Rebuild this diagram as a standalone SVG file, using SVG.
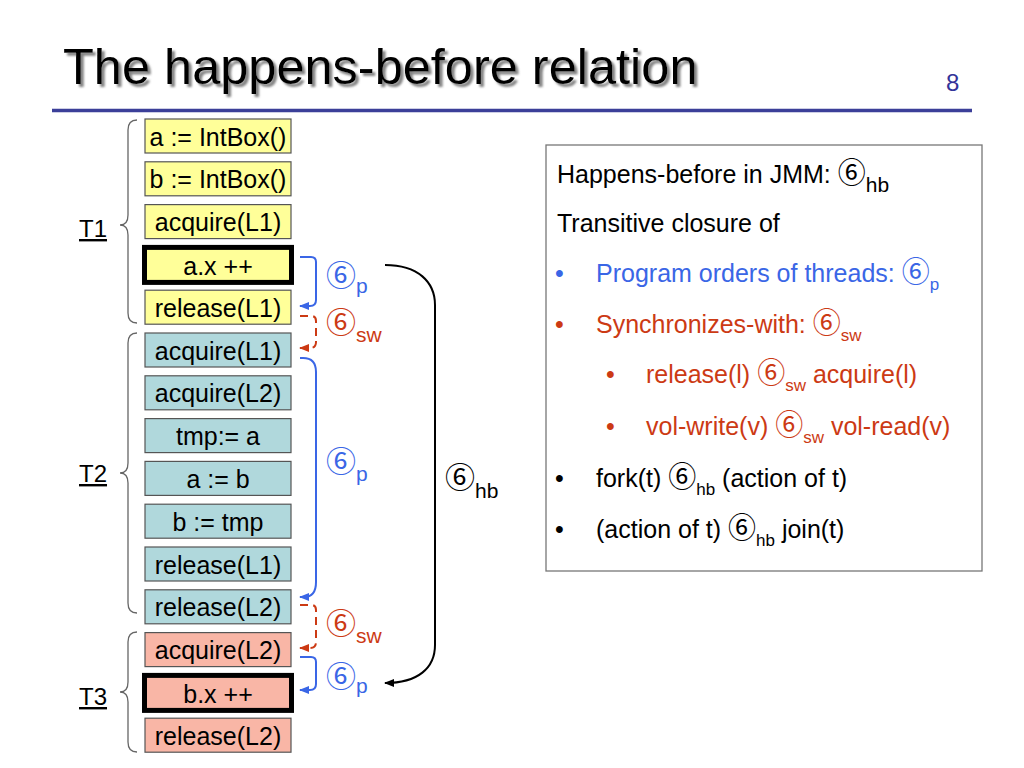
<svg xmlns="http://www.w3.org/2000/svg" width="1024" height="768" viewBox="0 0 1024 768">
<style>
text{font-family:"Liberation Sans",Arial,"Noto Sans CJK JP",sans-serif;}
.c{font-family:"Noto Sans CJK JP","Noto Sans CJK SC",sans-serif;}
.bx{stroke:#555;stroke-width:1.2;}
.thick{stroke:#000;stroke-width:5;}
.y{fill:#FFFF99;}
.t{fill:#B0D8DC;}
.s{fill:#F9B6A6;}
.bt{font-size:25px;fill:#000;text-anchor:middle;}
.brace{fill:none;stroke:#666;stroke-width:1.3;}
.lbl{font-size:24px;fill:#000;text-decoration:underline;}
.blue{fill:none;stroke:#3A66E6;stroke-width:2;}
.red{fill:none;stroke:#CC3A14;stroke-width:2;stroke-dasharray:8,5;}
.blk{fill:none;stroke:#000;stroke-width:2;}
.ct{font-size:30px;}
.cb{font-size:28px;}
</style>
<defs>
<marker id="ab" markerUnits="userSpaceOnUse" markerWidth="10" markerHeight="8" refX="9" refY="4" orient="auto"><path d="M0,0 L10,4 L0,8 z" fill="#3A66E6"/></marker>
<marker id="ar" markerUnits="userSpaceOnUse" markerWidth="10" markerHeight="8" refX="9" refY="4" orient="auto"><path d="M0,0 L10,4 L0,8 z" fill="#CC3A14"/></marker>
<marker id="ak" markerUnits="userSpaceOnUse" markerWidth="10" markerHeight="8" refX="9" refY="4" orient="auto"><path d="M0,0 L10,4 L0,8 z" fill="#000"/></marker>
<filter id="sh" x="-5%" y="-20%" width="110%" height="150%"><feDropShadow dx="3" dy="3" stdDeviation="1.3" flood-color="#777" flood-opacity="0.9"/></filter>
</defs>
<rect width="1024" height="768" fill="#fff"/>

<g id="title">
<text x="63" y="84" font-size="50.5" fill="#000" filter="url(#sh)">The happens-before relation</text>
<text x="946" y="91" font-size="24" fill="#333399">8</text>
<line x1="52" y1="110.5" x2="972" y2="110.5" stroke="#3B3F99" stroke-width="3.5"/>
</g>

<g id="T1">
<path class="brace" d="M137,120 Q128,120 128,130 V215 Q128,225 120,225 Q128,225 128,235 V313 Q128,323 137,323"/>
<text class="lbl" x="79" y="237">T1</text>
</g>
<g id="T2">
<path class="brace" d="M137,333 Q128,333 128,343 V463 Q128,473 120,473 Q128,473 128,483 V603 Q128,613 137,613"/>
<text class="lbl" x="79" y="482">T2</text>
</g>
<g id="T3">
<path class="brace" d="M137,632 Q128,632 128,642 V682 Q128,692 120,692 Q128,692 128,702 V742 Q128,752 137,752"/>
<text class="lbl" x="79" y="705">T3</text>
</g>

<g id="n0"><rect class="bx y" x="145" y="119" width="146" height="34"/><text class="bt" x="218" y="145.5">a := IntBox()</text></g>
<g id="n1"><rect class="bx y" x="145" y="161.8" width="146" height="34"/><text class="bt" x="218" y="188.3">b := IntBox()</text></g>
<g id="n2"><rect class="bx y" x="145" y="204.6" width="146" height="34"/><text class="bt" x="218" y="231.1">acquire(L1)</text></g>
<g id="n3"><rect class="thick y" x="144.5" y="247.4" width="147" height="35"/><text class="bt" x="218" y="274.5">a.x ++</text></g>
<g id="n4"><rect class="bx y" x="145" y="290.2" width="146" height="34"/><text class="bt" x="218" y="316.7">release(L1)</text></g>
<g id="n5"><rect class="bx t" x="145" y="333" width="146" height="34"/><text class="bt" x="218" y="359.5">acquire(L1)</text></g>
<g id="n6"><rect class="bx t" x="145" y="375.8" width="146" height="34"/><text class="bt" x="218" y="402.3">acquire(L2)</text></g>
<g id="n7"><rect class="bx t" x="145" y="418.6" width="146" height="34"/><text class="bt" x="218" y="445.1">tmp:= a</text></g>
<g id="n8"><rect class="bx t" x="145" y="461.4" width="146" height="34"/><text class="bt" x="218" y="487.9">a := b</text></g>
<g id="n9"><rect class="bx t" x="145" y="504.2" width="146" height="34"/><text class="bt" x="218" y="530.7">b := tmp</text></g>
<g id="n10"><rect class="bx t" x="145" y="547" width="146" height="34"/><text class="bt" x="218" y="573.5">release(L1)</text></g>
<g id="n11"><rect class="bx t" x="145" y="589.8" width="146" height="34"/><text class="bt" x="218" y="616.3">release(L2)</text></g>
<g id="n12"><rect class="bx s" x="145" y="632.6" width="146" height="34"/><text class="bt" x="218" y="659.1">acquire(L2)</text></g>
<g id="n13"><rect class="thick s" x="144.5" y="675.4" width="147" height="35"/><text class="bt" x="218" y="702.5">b.x ++</text></g>
<g id="n14"><rect class="bx s" x="145" y="718.2" width="146" height="34"/><text class="bt" x="218" y="744.7">release(L2)</text></g>

<g id="connectors">
<path class="blue" marker-end="url(#ab)" d="M300,257 H311 Q316,257 316,262 V300 Q316,306 310,306 H300"/>
<path class="red" marker-end="url(#ar)" d="M300,316 H311 Q316,316 316,321 V342 Q316,348 310,348 H300"/>
<path class="blue" marker-end="url(#ab)" d="M300,358 H303 Q316,358 316,372 V582 Q316,597 304,597 H300"/>
<path class="red" marker-end="url(#ar)" d="M300,605 H311 Q316,605 316,610 V642 Q316,648 310,648 H300"/>
<path class="blue" marker-end="url(#ab)" d="M300,657 H311 Q316,657 316,662 V684 Q316,690 310,690 H300"/>
<path class="blk" marker-end="url(#ak)" d="M385,265 C418,265 435,282 435,305 V645 C435,668 418,683 385,683"/>
</g>

<g id="edge-labels">
<text x="326" y="286" fill="#3A66E6"><tspan class="c ct">⑥</tspan><tspan font-size="21" dy="7">p</tspan></text>
<text x="326" y="333" fill="#CC3A14"><tspan class="c ct">⑥</tspan><tspan font-size="21" dy="9">sw</tspan></text>
<text x="326" y="472" fill="#3A66E6"><tspan class="c ct">⑥</tspan><tspan font-size="21" dy="9">p</tspan></text>
<text x="326" y="634" fill="#CC3A14"><tspan class="c ct">⑥</tspan><tspan font-size="21" dy="9">sw</tspan></text>
<text x="326" y="687" fill="#3A66E6"><tspan class="c ct">⑥</tspan><tspan font-size="21" dy="6">p</tspan></text>
<text x="445" y="488" fill="#000"><tspan class="c ct">⑥</tspan><tspan font-size="21" dy="10">hb</tspan></text>
</g>

<g id="info">
<rect x="546" y="145" width="436" height="426" fill="#fff" stroke="#777" stroke-width="1.3"/>
<text x="557" y="183" font-size="25">Happens-before in JMM: <tspan class="c cb">⑥</tspan><tspan font-size="21" dy="9">hb</tspan></text>
<text x="557" y="232" font-size="25">Transitive closure of</text>
<text x="555" y="282" font-size="25" fill="#3A66E6">•</text>
<text x="596" y="282" font-size="25" fill="#3A66E6">Program orders of threads: <tspan class="c cb">⑥</tspan><tspan font-size="17" dy="8">p</tspan></text>
<text x="555" y="333" font-size="25" fill="#CC3A14">•</text>
<text x="596" y="333" font-size="25" fill="#CC3A14">Synchronizes-with: <tspan class="c cb">⑥</tspan><tspan font-size="17" dy="8">sw</tspan></text>
<text x="606" y="383" font-size="25" fill="#CC3A14">•</text>
<text x="646" y="383" font-size="25" fill="#CC3A14">release(l) <tspan class="c cb">⑥</tspan><tspan font-size="17" dy="8">sw</tspan><tspan dy="-8"> acquire(l)</tspan></text>
<text x="606" y="435" font-size="25" fill="#CC3A14">•</text>
<text x="646" y="435" font-size="25" fill="#CC3A14">vol-write(v) <tspan class="c cb">⑥</tspan><tspan font-size="17" dy="8">sw</tspan><tspan dy="-8"> vol-read(v)</tspan></text>
<text x="555" y="487" font-size="25" fill="#000">•</text>
<text x="596" y="487" font-size="25" fill="#000">fork(t) <tspan class="c cb">⑥</tspan><tspan font-size="17" dy="8">hb</tspan><tspan dy="-8"> (action of t)</tspan></text>
<text x="555" y="538" font-size="25" fill="#000">•</text>
<text x="596" y="538" font-size="25" fill="#000">(action of t) <tspan class="c cb">⑥</tspan><tspan font-size="17" dy="8">hb</tspan><tspan dy="-8"> join(t)</tspan></text>
</g>
</svg>
